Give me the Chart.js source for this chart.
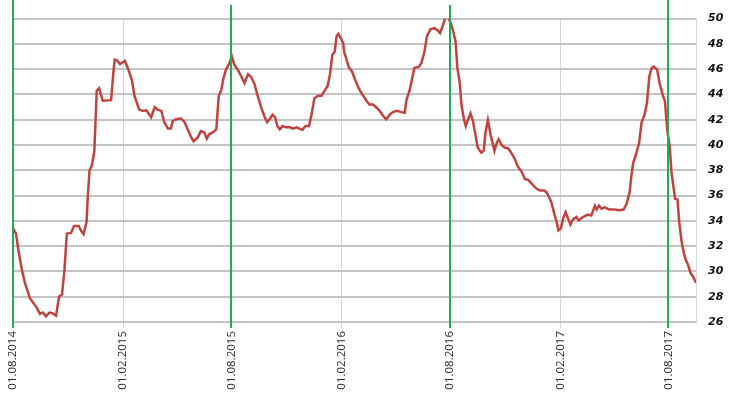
<!DOCTYPE html>
<html>
<head>
<meta charset="utf-8">
<script src="https://cdn.jsdelivr.net/npm/chart.js@4.4.0/dist/chart.umd.min.js"></script>
<style>
  html, body { margin: 0; padding: 0; background: #fff; }
  #wrap { width: 730px; height: 398px; position: relative; }
</style>
</head>
<body>
<div id="wrap"><canvas id="chart"></canvas></div>
<script>
// daily readings
var dates = [
  '2014-08-01','2014-08-06','2014-08-10','2014-08-16','2014-08-21','2014-08-25','2014-08-29','2014-09-04','2014-09-09','2014-09-15',
  '2014-09-20','2014-09-25','2014-10-01','2014-10-06','2014-10-12','2014-10-17','2014-10-22','2014-10-26','2014-10-30','2014-11-06',
  '2014-11-11','2014-11-19','2014-11-23','2014-11-27','2014-12-02','2014-12-04','2014-12-07','2014-12-11','2014-12-15','2014-12-19',
  '2014-12-23','2014-12-29','2015-01-12','2015-01-16','2015-01-18','2015-01-22','2015-01-27','2015-02-04','2015-02-09','2015-02-16',
  '2015-02-20','2015-02-24','2015-02-28','2015-03-06','2015-03-12','2015-03-20','2015-03-26','2015-03-31','2015-04-06','2015-04-11',
  '2015-04-17','2015-04-22','2015-04-25','2015-05-01','2015-05-09','2015-05-15','2015-05-20','2015-05-26','2015-05-30','2015-06-06',
  '2015-06-11','2015-06-17','2015-06-21','2015-06-25','2015-07-01','2015-07-07','2015-07-11','2015-07-15','2015-07-19','2015-07-23',
  '2015-07-28','2015-08-02','2015-08-06','2015-08-12','2015-08-18','2015-08-23','2015-08-29','2015-09-03','2015-09-09','2015-09-14',
  '2015-09-20','2015-09-26','2015-09-30','2015-10-04','2015-10-09','2015-10-13','2015-10-17','2015-10-21','2015-10-26','2015-11-01',
  '2015-11-07','2015-11-12','2015-11-18','2015-11-23','2015-11-28','2015-12-03','2015-12-09','2015-12-13','2015-12-18','2015-12-24',
  '2015-12-30','2016-01-04','2016-01-09','2016-01-13','2016-01-17','2016-01-21','2016-01-24','2016-01-27','2016-01-31','2016-02-04',
  '2016-02-06','2016-02-09','2016-02-13','2016-02-19','2016-02-25','2016-03-01','2016-03-07','2016-03-14','2016-03-19','2016-03-25',
  '2016-03-31','2016-04-05','2016-04-10','2016-04-16','2016-04-22','2016-04-27','2016-05-04','2016-05-11','2016-05-17','2016-05-20',
  '2016-05-25','2016-05-30','2016-06-02','2016-06-10','2016-06-14','2016-06-19','2016-06-23','2016-06-29','2016-07-06','2016-07-11',
  '2016-07-15','2016-07-20','2016-07-24','2016-07-28','2016-08-03','2016-08-06','2016-08-10','2016-08-13','2016-08-17','2016-08-20',
  '2016-08-24','2016-08-27','2016-08-31','2016-09-04','2016-09-08','2016-09-12','2016-09-16','2016-09-22','2016-09-26','2016-09-29',
  '2016-10-03','2016-10-08','2016-10-10','2016-10-14','2016-10-17','2016-10-21','2016-10-26','2016-10-31','2016-11-06','2016-11-11',
  '2016-11-17','2016-11-22','2016-11-29','2016-12-04','2016-12-09','2016-12-16','2016-12-22','2016-12-29','2017-01-05','2017-01-09',
  '2017-01-13','2017-01-17','2017-01-22','2017-01-26','2017-01-29','2017-02-02','2017-02-06','2017-02-10','2017-02-14','2017-02-18',
  '2017-02-22','2017-02-28','2017-03-04','2017-03-11','2017-03-19','2017-03-25','2017-03-31','2017-04-03','2017-04-07','2017-04-11',
  '2017-04-16','2017-04-24','2017-05-03','2017-05-11','2017-05-18','2017-05-23','2017-05-28','2017-05-31','2017-06-03','2017-06-07',
  '2017-06-13','2017-06-17','2017-06-22','2017-06-26','2017-06-30','2017-07-04','2017-07-07','2017-07-13','2017-07-17','2017-07-23',
  '2017-07-26','2017-07-30','2017-08-03','2017-08-06','2017-08-09','2017-08-12','2017-08-16','2017-08-19','2017-08-23','2017-08-27',
  '2017-08-30','2017-09-03','2017-09-07','2017-09-11','2017-09-16'
]

var values = [
  33.4, 33.0, 31.7, 30.1, 29.1, 28.5, 27.9, 27.5, 27.2, 26.65,
  26.75, 26.45, 26.75, 26.7, 26.5, 28.0, 28.2, 30.1, 33.0, 33.05,
  33.6, 33.6, 33.2, 32.95, 33.9, 35.9, 38.0, 38.4, 39.5, 44.3,
  44.5, 43.5, 43.55, 45.8, 46.75, 46.7, 46.4, 46.65, 46.1, 45.1,
  43.9, 43.35, 42.8, 42.7, 42.75, 42.2, 43.0, 42.8, 42.7, 41.8,
  41.3, 41.3, 41.9, 42.04, 42.1, 41.8, 41.25, 40.6, 40.3, 40.6,
  41.1, 41.0, 40.5, 40.85, 41.0, 41.25, 43.9, 44.3, 45.3, 45.95,
  46.4, 47.0, 46.36, 45.95, 45.4, 44.9, 45.6, 45.4, 44.8, 43.9,
  42.95, 42.2, 41.8, 42.04, 42.4, 42.2, 41.5, 41.25, 41.5, 41.4,
  41.4, 41.3, 41.4, 41.3, 41.2, 41.5, 41.5, 42.4, 43.7, 43.9,
  43.9, 44.3, 44.65, 45.6, 47.15, 47.4, 48.6, 48.8, 48.45, 48.06,
  47.3, 46.9, 46.2, 45.8, 45.05, 44.5, 44.0, 43.5, 43.2, 43.2,
  42.95, 42.7, 42.35, 42.04, 42.4, 42.6, 42.7, 42.6, 42.55, 43.6,
  44.3, 45.4, 46.1, 46.2, 46.5, 47.4, 48.6, 49.16, 49.24, 49.06,
  48.85, 49.5, 50.1, 50.2, 49.5, 49.0, 48.2, 46.1, 44.9, 43.1,
  42.04, 41.5, 42.04, 42.5, 41.9, 40.86, 39.8, 39.4, 39.55, 40.98,
  41.98, 40.7, 40.33, 39.55, 40.07, 40.46, 40.0, 39.8, 39.73, 39.4,
  38.9, 38.3, 37.84, 37.3, 37.26, 36.9, 36.6, 36.4, 36.4, 36.27,
  35.9, 35.5, 34.57, 33.9, 33.25, 33.4, 34.2, 34.7, 34.2, 33.7,
  34.1, 34.3, 34.04, 34.3, 34.5, 34.43, 35.2, 34.9, 35.2, 34.96,
  35.07, 34.9, 34.9, 34.85, 34.9, 35.35, 36.27, 37.58, 38.6, 39.15,
  40.2, 41.77, 42.43, 43.34, 45.44, 46.1, 46.2, 45.97, 44.9, 43.87,
  43.5, 41.1, 39.94, 37.84, 36.8, 35.75, 35.7, 33.9, 32.33, 31.4,
  30.9, 30.5, 29.85, 29.6, 29.1
]

var tickDates = ['2014-08-01', '2015-02-01', '2015-08-01', '2016-02-01', '2016-08-01', '2017-02-01', '2017-08-01']
var markerDates = ['2014-08-01', '2015-08-01', '2016-08-01', '2017-08-01']

var yMin = 26
var yMax = 50
var yStep = 2

function toTime (s) {
  var p = s.split('-')
  return Date.UTC(+p[0], +p[1] - 1, +p[2])
}

function pad (n) {
  return n < 10 ? '0' + n : '' + n
}

function fmt (t) {
  var d = new Date(t)
  return pad(d.getUTCDate()) + '.' + pad(d.getUTCMonth() + 1) + '.' + d.getUTCFullYear()
}

var points = dates.map(function (d, i) { return { x: toTime(d), y: values[i] } })
var tickTimes = tickDates.map(toTime)
var markerTimes = markerDates.map(toTime)

// green year markers, a bit taller than the plot
var markerLines = {
  id: 'markerLines',
  afterDatasetsDraw: function (chart) {
    var c = chart.ctx
    var area = chart.chartArea
    var xs = chart.scales.x
    c.save()
    c.strokeStyle = '#1aaf54'
    c.lineWidth = 2
    markerTimes.forEach(function (t, i) {
      var px = Math.round(xs.getPixelForValue(t))
      c.beginPath()
      c.moveTo(px, (i === 1 || i === 2) ? 5 : 0)
      c.lineTo(px, area.bottom + 6)
      c.stroke()
    })
    c.restore()
  }
}

var ctx = document.getElementById('chart')

new Chart(ctx, {
  type: 'line',
  data: {
    datasets: [{
      data: points,
      borderColor: '#c0433f',
      borderWidth: 2.5,
      pointRadius: 0,
      tension: 0,
      fill: false
    }]
  },
  options: {
    responsive: true,
    maintainAspectRatio: false,
    animation: false,
    events: [],
    layout: { padding: { left: 13, top: 17, right: 0, bottom: 0 } },
    plugins: {
      legend: { display: false },
      tooltip: { enabled: false }
    },
    scales: {
      x: {
        type: 'linear',
        min: toTime(dates[0]),
        max: toTime(dates[dates.length - 1]),
        afterBuildTicks: function (scale) {
          scale.ticks = tickTimes.map(function (t) { return { value: t } })
        },
        afterFit: function (scale) { scale.height = 76 },
        border: { display: false },
        grid: {
          color: function (c) {
            return markerTimes.indexOf(c.tick && c.tick.value) >= 0 ? 'rgba(0,0,0,0)' : '#d6d6d6'
          },
          lineWidth: 1,
          tickLength: 6
        },
        ticks: {
          autoSkip: false,
          minRotation: 90,
          maxRotation: 90,
          padding: 3,
          color: '#2a2a2a',
          font: { family: 'Open Sans', size: 11.5 },
          callback: function (v) { return fmt(v) }
        }
      },
      y: {
        position: 'right',
        min: yMin,
        max: yMax,
        afterFit: function (scale) { scale.width = 34 },
        border: { display: true, color: '#d9d9d9', width: 1 },
        grid: { color: '#c4c4c4', lineWidth: 2, drawTicks: false },
        ticks: {
          stepSize: yStep,
          padding: 12,
          color: '#111',
          font: { family: 'DejaVu Sans', size: 11, style: 'italic', weight: 'bold' }
        }
      }
    }
  },
  plugins: [markerLines]
})
</script>
</body>
</html>
